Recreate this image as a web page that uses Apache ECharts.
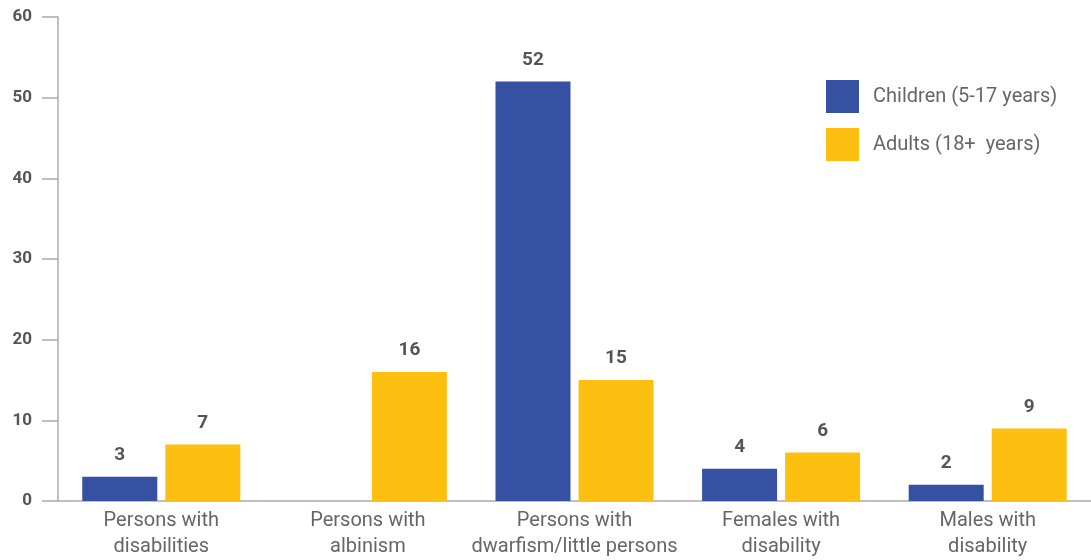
<!DOCTYPE html>
<html><head><meta charset="utf-8">
<script src="https://cdn.jsdelivr.net/npm/echarts@6/dist/echarts.min.js"></script>
<style>html,body{margin:0;padding:0;background:#fff}#c{width:1091px;height:560px}</style>
</head><body><div id="c"></div>
<script>
const categories = ['Persons with\ndisabilities', 'Persons with\nalbinism', 'Persons with\ndwarfism/little persons', 'Females with\ndisability', 'Males with\ndisability'];
const children = [3, null, 52, 4, 2];
const adults = [7, 16, 15, 6, 9];
const seriesNames = ['Children (5-17 years)', 'Adults (18+  years)'];
const yTicks = { min: 0, max: 60, interval: 10 };

const FONT = "'Roboto', sans-serif";
const chart = echarts.init(document.getElementById('c'));
const labelStyle = { show: true, position: 'top', distance: 12, color: '#555', fontSize: 19, fontWeight: 'bold', fontFamily: FONT };
chart.setOption({
  animation: false,
  grid: { left: 58, right: 0, top: 17, bottom: 56 },
  legend: {
    orient: 'vertical', left: 826, top: 80, padding: 0, itemWidth: 33, itemHeight: 33, itemGap: 15,
    icon: 'rect',
    textStyle: { color: '#666', fontSize: 20, fontFamily: FONT, padding: [0, 0, 0, 9] },
    data: seriesNames
  },
  xAxis: {
    type: 'category', data: categories,
    axisLine: { lineStyle: { color: '#aaa', width: 1.5 } },
    axisTick: { length: 11, lineStyle: { color: '#aaa', width: 1.5 } },
    axisLabel: { color: '#666', fontSize: 20, fontFamily: FONT, lineHeight: 26, margin: 7, interval: 0 }
  },
  yAxis: {
    type: 'value', min: yTicks.min, max: yTicks.max, interval: yTicks.interval,
    axisLine: { show: true, lineStyle: { color: '#aaa', width: 1.5 } },
    axisTick: { show: true, length: 16, lineStyle: { color: '#aaa', width: 1.5 } },
    splitLine: { show: false },
    axisLabel: { color: '#555', fontSize: 17, fontWeight: 'bold', fontFamily: FONT, margin: 26 }
  },
  series: [
    { name: seriesNames[0], type: 'bar', data: children, barWidth: 75, barGap: '10.7%', itemStyle: { color: '#3650A2' }, label: labelStyle },
    { name: seriesNames[1], type: 'bar', data: adults, barWidth: 75, barGap: '10.7%', itemStyle: { color: '#FDC010' }, label: labelStyle }
  ]
});
</script></body></html>
